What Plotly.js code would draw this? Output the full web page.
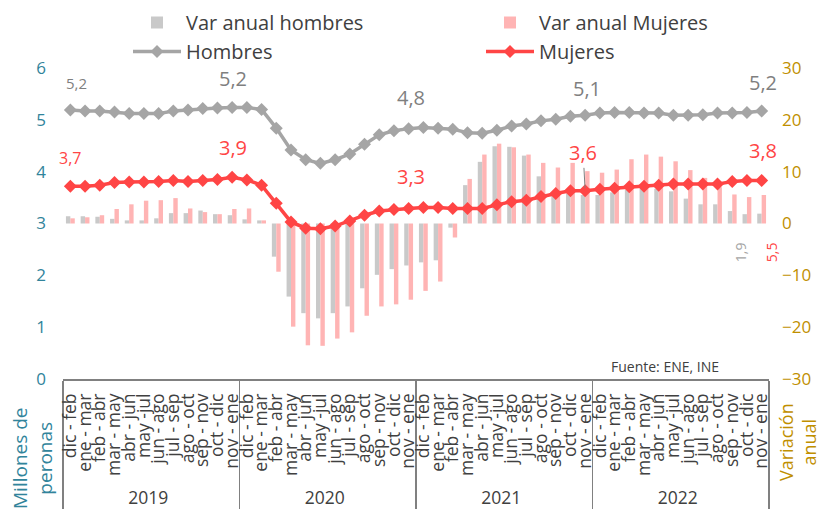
<!DOCTYPE html>
<html>
<head>
<meta charset="utf-8">
<script src="https://cdn.plot.ly/plotly-3.0.1.min.js"></script>
<style>
  html, body { margin: 0; padding: 0; background: #ffffff; }
  #chart { width: 827px; height: 510px; }
</style>
</head>
<body>
<div id="chart"></div>
<script>
// ---- Data ----
const years = ['2019', '2020', '2021', '2022'];
const periods = ['dic - feb', 'ene - mar', 'feb - abr', 'mar - may', 'abr - jun', 'may -jul',
                 'jun - ago', 'jul - sep', 'ago - oct', 'sep - nov', 'oct - dic', 'nov - ene'];

// Ocupados (millones de personas)
const hombres = [5.19, 5.17, 5.17, 5.15, 5.12, 5.12, 5.12, 5.17, 5.19, 5.22, 5.23, 5.24,
                 5.24, 5.20, 4.84, 4.42, 4.23, 4.16, 4.23, 4.34, 4.53, 4.71, 4.79, 4.83,
                 4.85, 4.84, 4.82, 4.75, 4.74, 4.80, 4.88, 4.92, 4.98, 5.01, 5.07, 5.09,
                 5.13, 5.14, 5.14, 5.13, 5.13, 5.09, 5.09, 5.10, 5.13, 5.13, 5.14, 5.17];
const mujeres = [3.72, 3.72, 3.74, 3.79, 3.80, 3.80, 3.81, 3.83, 3.81, 3.83, 3.85, 3.89,
                 3.84, 3.74, 3.39, 3.03, 2.91, 2.90, 2.95, 3.05, 3.16, 3.24, 3.27, 3.29,
                 3.31, 3.31, 3.29, 3.29, 3.29, 3.36, 3.42, 3.45, 3.52, 3.58, 3.63, 3.63,
                 3.66, 3.68, 3.71, 3.72, 3.74, 3.76, 3.76, 3.76, 3.76, 3.81, 3.83, 3.83];

// Variación anual (%)
const varHombres = [1.4, 1.4, 1.3, 0.9, 0.6, 0.6, 1.0, 2.0, 2.0, 2.5, 1.8, 1.6,
                    0.8, 0.6, -6.4, -14.1, -17.3, -18.3, -17.3, -16.0, -12.5, -9.9, -8.8, -8.1,
                    -7.5, -7.1, -0.8, 7.4, 11.9, 14.9, 14.8, 13.1, 9.1, 5.6, 5.8, 5.5,
                    5.5, 6.0, 6.5, 6.7, 6.7, 6.2, 4.8, 3.7, 3.7, 2.4, 1.8, 1.9];
const varMujeres = [1.0, 1.2, 1.6, 2.8, 3.7, 4.4, 4.5, 4.9, 2.9, 2.2, 1.8, 2.8,
                    2.9, 0.6, -9.3, -19.9, -23.5, -23.6, -22.2, -21.0, -17.8, -16.0, -15.6, -14.7,
                    -13.0, -11.2, -2.7, 8.6, 13.3, 15.4, 14.7, 13.3, 11.7, 10.8, 11.7, 10.1,
                    9.8, 10.4, 12.4, 13.3, 12.9, 12.0, 10.3, 8.8, 7.0, 5.6, 5.1, 5.5];

// indices of labelled points
const lineLabelIdx = [0, 11, 23, 35, 47];

// ---- Build multicategory x ----
const xYear = [], xPeriod = [];
years.forEach(y => periods.forEach(p => { xYear.push(y); xPeriod.push(p); }));
const X = [xYear, xPeriod];
const nCat = xPeriod.length;

const fmt = v => v.toFixed(1).replace('.', ',');

const FONT = 'Open Sans, Noto Sans, sans-serif';
const GREY_LINE = '#A5A5A5';
const RED_LINE = '#FF4545';
const GREY_BAR = '#C9C9C9';
const PINK_BAR = '#FFB4B4';

const traces = [
  { type: 'bar', name: 'Var anual hombres', x: X, y: varHombres, yaxis: 'y',
    marker: { color: GREY_BAR }, hoverinfo: 'skip' },
  { type: 'bar', name: 'Var anual Mujeres', x: X, y: varMujeres, yaxis: 'y',
    marker: { color: PINK_BAR }, hoverinfo: 'skip' },
  { type: 'scatter', mode: 'lines+markers', name: 'Hombres', x: X, y: hombres, yaxis: 'y2',
    line: { color: GREY_LINE, width: 3.5 }, marker: { symbol: 'diamond', size: 10, color: GREY_LINE },
    hoverinfo: 'skip' },
  { type: 'scatter', mode: 'lines+markers', name: 'Mujeres', x: X, y: mujeres, yaxis: 'y2',
    line: { color: RED_LINE, width: 3.5 }, marker: { symbol: 'diamond', size: 10, color: RED_LINE },
    hoverinfo: 'skip' }
];

const annotations = [];
// Hombres labels
const hShift = [[6, 27, 15], [1, 29, 20], [2, 31, 20], [2, 27, 20], [1, 29, 20]];
lineLabelIdx.forEach((i, k) => {
  annotations.push({ x: i, y: hombres[i], xref: 'x', yref: 'y2', text: fmt(hombres[i]),
    showarrow: false, xshift: hShift[k][0], yshift: hShift[k][1],
    font: { family: FONT, size: hShift[k][2], color: '#7F7F7F' } });
});
// Mujeres labels
const mShift = [[0, 28, 16], [1, 30, 20], [2, 32, 20], [0, 40, 20], [1, 30, 20]];
lineLabelIdx.forEach((i, k) => {
  const a = { x: i, y: mujeres[i], xref: 'x', yref: 'y2', text: fmt(mujeres[i]),
    font: { family: FONT, size: mShift[k][2], color: RED_LINE } };
  if (i === 35) {
    Object.assign(a, { showarrow: true, arrowhead: 0, arrowwidth: 1, arrowcolor: '#808080',
      ax: -2, ay: -38, standoff: 3 });
  } else {
    Object.assign(a, { showarrow: false, xshift: mShift[k][0], yshift: mShift[k][1] });
  }
  annotations.push(a);
});
// Last bar labels (rotated)
const last = varHombres.length - 1;
annotations.push({ x: last, y: 0, xref: 'x', yref: 'y', text: fmt(varHombres[last]),
  showarrow: false, textangle: -90, xshift: -21, yshift: -29,
  font: { family: FONT, size: 14, color: '#A5A5A5' } });
annotations.push({ x: last, y: 0, xref: 'x', yref: 'y', text: fmt(varMujeres[last]),
  showarrow: false, textangle: -90, xshift: 10, yshift: -29,
  font: { family: FONT, size: 14, color: RED_LINE } });
// Source
annotations.push({ xref: 'paper', yref: 'paper', x: (665 - 63) / 706, y: (379 - 366) / 311,
  text: 'Fuente: ENE, INE', showarrow: false, xanchor: 'center', yanchor: 'middle',
  font: { family: FONT, size: 14, color: '#404040' } });
// Axis titles
annotations.push({ xref: 'paper', yref: 'paper', x: (33 - 63) / 706, y: (379 - 458) / 311,
  text: 'Millones de<br>peronas', showarrow: false, textangle: -90, xanchor: 'center', yanchor: 'middle',
  font: { family: FONT, size: 19, color: '#31849B' } });
annotations.push({ xref: 'paper', yref: 'paper', x: (797 - 63) / 706, y: (379 - 442) / 311,
  text: 'Variación<br>anual', showarrow: false, textangle: -90, xanchor: 'center', yanchor: 'middle',
  font: { family: FONT, size: 18, color: '#BF8F00' } });

const layout = {
  width: 827, height: 510,
  margin: { l: 63, r: 58, t: 68, b: 131, autoexpand: false },
  paper_bgcolor: '#ffffff', plot_bgcolor: '#ffffff',
  font: { family: FONT, color: '#404040' },
  barmode: 'group', bargap: 0.4, bargroupgap: 0,
  showlegend: true,
  legend: { orientation: 'h', x: (128 - 63) / 706, y: (379 - 3) / 311, xanchor: 'left', yanchor: 'top',
    entrywidth: 290, entrywidthmode: 'pixels', itemwidth: 48,
    font: { family: FONT, size: 20, color: '#404040' }, bgcolor: 'rgba(0,0,0,0)' },
  xaxis: { type: 'multicategory', range: [-0.5, nCat - 0.5], autorange: false,
    tickmode: 'linear', dtick: 1, tickangle: -90, showgrid: false, zeroline: false,
    showline: true, linecolor: '#808080', linewidth: 1.5, ticks: '', ticklabelstandoff: 6,
    showdividers: true, dividercolor: '#808080', dividerwidth: 1.5,
    tickfont: { family: FONT, size: 17.5, color: '#404040' } },
  yaxis: { side: 'right', range: [-30, 30], dtick: 10, showgrid: false, zeroline: false,
    showline: false, ticks: '', ticklabelstandoff: 12,
    tickfont: { family: FONT, size: 17, color: '#BF8F00' } },
  yaxis2: { side: 'left', overlaying: 'y', range: [0, 6], dtick: 1, showgrid: false, zeroline: false,
    showline: false, ticks: '', ticklabelstandoff: 16,
    tickfont: { family: FONT, size: 17, color: '#31849B' } },
  annotations: annotations
};

Plotly.newPlot('chart', traces, layout, { displayModeBar: false, staticPlot: true });
</script>
</body>
</html>
